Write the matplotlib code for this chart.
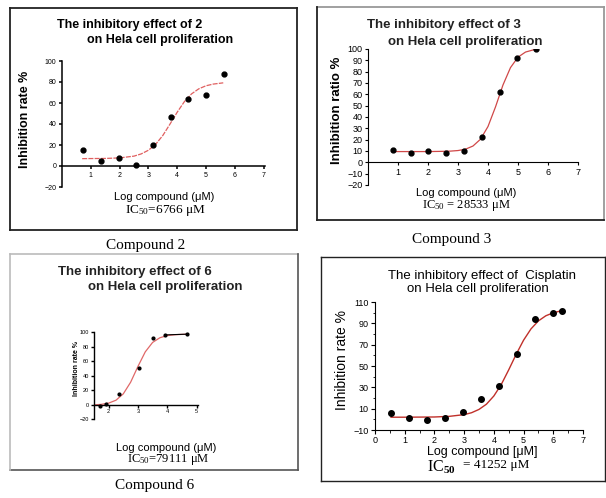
import matplotlib
matplotlib.use("Agg")
import matplotlib.pyplot as plt
from matplotlib.lines import Line2D
from matplotlib.ticker import MultipleLocator

W, H = 606, 498

c2_logc = [0.73, 1.34, 1.98, 2.58, 3.17, 3.8, 4.39, 4.99, 5.61]
c2_rate = [15, 5, 8, 1, 20, 47, 64, 68, 88]
c2_fit_x = [0.7, 1.0, 1.5, 2.0, 2.5, 2.75, 3.0, 3.25, 3.5, 3.75, 4.0, 4.25, 4.5, 4.75, 5.0, 5.25, 5.6]
c2_fit_y = [7.0, 7.1, 7.2, 7.7, 9.4, 11.5, 15.0, 20.6, 29.0, 39.9, 51.2, 61.3, 68.7, 73.5, 76.4, 78.0, 79.2]

# Compound 3
c3_logc = [0.82, 1.42, 2.01, 2.6, 3.21, 3.81, 4.4, 4.98, 5.59]
c3_rate = [10.6, 8.6, 10, 8.6, 10, 22.4, 61.7, 91.8, 99.7]
c3_fit_x = [0.8, 1.5, 2.0, 2.5, 2.75, 3.0, 3.25, 3.5, 3.75, 4.0, 4.25, 4.5, 4.75, 5.0, 5.25, 5.59]
c3_fit_y = [9.5, 9.5, 9.5, 9.7, 9.9, 10.4, 11.6, 14.4, 20.4, 31.6, 48.9, 68.3, 83.6, 92.8, 97.3, 99.8]

# Compound 6
c6_logc = [1.69, 1.92, 2.34, 3.02, 3.5, 3.93, 4.67]
c6_rate = [-1.4, 1, 15, 51, 92, 96, 97]
c6_fit_x = [1.55, 1.75, 2.0, 2.25, 2.5, 2.75, 3.0, 3.25, 3.5, 3.75, 4.0, 4.25, 4.5, 4.67]
c6_fit_y = [-0.4, 0.2, 1.9, 5.9, 14.7, 30.7, 52.5, 72.6, 85.6, 92.1, 95.0, 96.2, 96.7, 96.9]

# Cisplatin
cis_logc = [0.54, 1.15, 1.74, 2.35, 2.97, 3.58, 4.18, 4.78, 5.38, 5.99, 6.29]
cis_rate = [6.2, 1.5, -0.7, 1.5, 6.5, 19, 30.8, 61, 94, 100, 101.8]
cis_fit_x = [0.54, 1.0, 1.5, 2.0, 2.5, 3.0, 3.25, 3.5, 3.75, 4.0, 4.25, 4.5, 4.75, 5.0, 5.25, 5.5, 5.75, 6.0, 6.29]
cis_fit_y = [2.0, 2.0, 2.1, 2.2, 2.8, 4.4, 6.2, 9.3, 14.2, 21.9, 32.7, 46.4, 60.9, 74.2, 84.8, 92.3, 97.1, 99.9, 101.9]

plt.rcParams['font.family'] = ['Liberation Sans', 'DejaVu Sans']
plt.rcParams['mathtext.fontset'] = 'custom'
plt.rcParams['mathtext.rm'] = 'Liberation Serif'
plt.rcParams['mathtext.it'] = 'Liberation Serif:italic'
plt.rcParams['mathtext.bf'] = 'Liberation Serif:bold'

fig = plt.figure(figsize=(W / 100, H / 100), dpi=100)
fig.patch.set_facecolor('white')


def ax_at(left, top, right, bottom):
    ax = fig.add_axes([left / W, 1 - bottom / H, (right - left) / W, (bottom - top) / H])
    ax.patch.set_alpha(0)
    return ax


def txt(x, y, s, **kw):
    kw.setdefault('va', 'center')
    fig.text(x / W, 1 - y / H, s, **kw)


def side(x0, y0, x1, y1, color, lw):
    fig.add_artist(Line2D([x0 / W, x1 / W], [1 - y0 / H, 1 - y1 / H],
                          transform=fig.transFigure, color=color, linewidth=lw))


def frame(left, top, right, bottom, colors, lw):
    # colors: top, right, bottom, left
    side(left, top, right, top, colors[0], lw)
    side(right, top, right, bottom, colors[1], lw)
    side(left, bottom, right, bottom, colors[2], lw)
    side(left, top, left, bottom, colors[3], lw)


def prism_axes(ax, lw, fs, tlen):
    ax.spines['top'].set_visible(False)
    ax.spines['right'].set_visible(False)
    ax.spines['bottom'].set_position(('data', 0))
    ax.spines['left'].set_linewidth(lw)
    ax.spines['bottom'].set_linewidth(lw)
    ax.tick_params(direction='out', length=tlen, width=lw, labelsize=fs, pad=1.5)


# ---------------- Compound 2 ----------------
ax1 = ax_at(62, 61, 265, 187)
ax1.plot(c2_fit_x, c2_fit_y, color='#e06060', lw=0.9, ls=(0, (4, 1)))
ax1.plot(c2_logc, c2_rate, 'o', color='black', ms=3.5)
ax1.set_xlim(0, 7.05)
ax1.set_ylim(-20, 100)
ax1.set_xticks([1, 2, 3, 4, 5, 6, 7])
ax1.set_yticks([-20, 0, 20, 40, 60, 80, 100])
prism_axes(ax1, 1.1, 5, 2.5)
txt(57, 25, "The inhibitory effect of 2", fontsize=9, weight='bold')
txt(87, 40, "on Hela cell proliferation", fontsize=9, weight='bold')
txt(25, 119, "Inhibition rate %", rotation=90, ha='center', fontsize=9, weight='bold')
txt(164, 197, "Log compound (μM)", ha='center', fontsize=8)
txt(165, 210, r"IC$_{50}$=6766 μM", ha='center', family='Liberation Serif', fontsize=9.5)
txt(146, 245, "Compound 2", ha='center', family='Liberation Serif', fontsize=11)
frame(10, 8, 297, 230, ['#222222'] * 4, 1.3)

# ---------------- Compound 3 ----------------
ax2 = ax_at(368, 49, 578, 185)
ax2.plot(c3_fit_x, c3_fit_y, color='#d04848', lw=0.9)
ax2.plot(c3_logc, c3_rate, 'o', color='black', ms=3.5)
ax2.set_xlim(0, 7)
ax2.set_ylim(-20, 100)
ax2.set_xticks([1, 2, 3, 4, 5, 6, 7])
ax2.yaxis.set_major_locator(MultipleLocator(10))
prism_axes(ax2, 0.8, 6.5, 2.5)
txt(367, 25, "The inhibitory effect of 3", fontsize=9.5, weight='bold', color='#222222')
txt(388, 42, "on Hela cell proliferation", fontsize=9.5, weight='bold', color='#222222')
txt(337, 110, "Inhibition ratio %", rotation=90, ha='center', fontsize=9.5, weight='bold')
txt(466, 193, "Log compound (μM)", ha='center', fontsize=8)
txt(466, 205, r"IC$_{50}$ = 28533 μM", ha='center', family='Liberation Serif', fontsize=9)
txt(452, 240, "Compound 3", ha='center', family='Liberation Serif', fontsize=11)
frame(317, 7, 604, 220, ['#999999', '#999999', '#222222', '#222222'], 1.3)

# ---------------- Compound 6 ----------------
ax3 = ax_at(94, 332, 198, 419)
ax3.plot(c6_fit_x, c6_fit_y, color='#e06868', lw=0.9)
ax3.plot(c6_logc[-2:], c6_rate[-2:], color='black', lw=0.8)
ax3.plot(c6_logc, c6_rate, 'o', color='black', ms=2)
ax3.set_xlim(1.5, 5.05)
ax3.set_ylim(-20, 100)
ax3.set_xticks([2, 3, 4, 5])
ax3.set_yticks([-20, 0, 20, 40, 60, 80, 100])
prism_axes(ax3, 1.0, 4, 2)
txt(58, 272, "The inhibitory effect of 6", fontsize=9.5, weight='bold', color='#222222')
txt(88, 287, "on Hela cell proliferation", fontsize=9.5, weight='bold', color='#222222')
txt(76, 368, "Inhibition rate %", rotation=90, ha='center', fontsize=5, weight='bold')
txt(166, 448, "Log compound (μM)", ha='center', fontsize=8)
txt(168, 459, r"IC$_{50}$=79111 μM", ha='center', family='Liberation Serif', fontsize=9)
txt(155, 485, "Compound 6", ha='center', family='Liberation Serif', fontsize=11)
frame(10, 254, 298, 470, ['#bbbbbb', '#555555', '#555555', '#bbbbbb'], 1.2)

# ---------------- Cisplatin ----------------
ax4 = ax_at(375, 302, 583, 430)
ax4.plot(cis_fit_x, cis_fit_y, color='#c0302a', lw=1.0)
ax4.plot(cis_logc, cis_rate, 'o', color='black', ms=4)
ax4.set_xlim(0, 7)
ax4.set_ylim(-10, 110)
ax4.set_yticks([-10, 10, 30, 50, 70, 90, 110])
ax4.yaxis.set_minor_locator(MultipleLocator(10))
ax4.xaxis.set_minor_locator(MultipleLocator(0.5))
ax4.spines['top'].set_visible(False)
ax4.spines['right'].set_visible(False)
ax4.tick_params(direction='out', length=3, width=0.8, labelsize=6.5, pad=1.5)
ax4.tick_params(which='minor', length=1.8, width=0.6)
txt(482, 276, "The inhibitory effect of  Cisplatin", ha='center', fontsize=9.5)
txt(478, 289, "on Hela cell proliferation", ha='center', fontsize=9.5)
txt(342, 360, "Inhibition rate %", rotation=90, ha='center', fontsize=10)
txt(482, 452, "Log compound [μM]", ha='center', fontsize=9)
txt(427, 467, r"IC$_{\mathbf{50}}$", family='Liberation Serif', fontsize=11.5)
txt(463, 465, "= 41252 μM", family='Liberation Serif', fontsize=9.5)
frame(321, 257, 605, 481, ['#222222'] * 4, 1.0)

fig.savefig("out.png", dpi=100, facecolor='white')
